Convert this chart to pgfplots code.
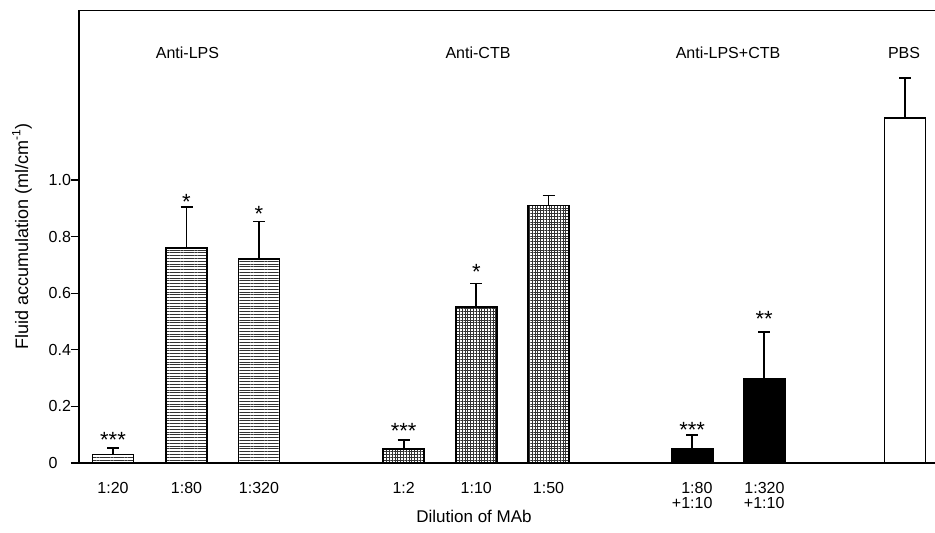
\documentclass[border=0pt]{standalone}
\usepackage{fontspec}
\setmainfont{Liberation Sans}
\usepackage{pgfplots}
\pgfplotsset{compat=1.18}
\usetikzlibrary{patterns.meta}

\pgfplotsset{
    uperr/.style={
        error bars/.cd,
        y dir=plus, y explicit,
        error bar style={line width=0.85pt, black},
        error mark options={rotate=90, mark size=3pt, line width=0.85pt, black},
    },
}

\begin{document}
\begin{tikzpicture}
\begin{axis}[
    scale only axis,
    width=428pt, height=226.4pt,
    xmin=79, xmax=935, ymin=0, ymax=1.6,
    clip=false,
    axis x line*=bottom, axis y line*=left,
    axis line style={line width=0.6pt},
    ybar, bar width=41, bar shift=0pt,
    xtick={113,186.5,259,403.7,476.3,548.5,692.2,764.2},
    xticklabels={1:20,1:80,1:320,1:2,1:10,1:50,{1:80\\+1:10},{1:320\\+1:10}},
    xtick style={draw=none},
    xticklabel style={font=\fontsize{8}{7.7}\selectfont, align=right, yshift=-2pt},
    ytick={0,0.2,0.4,0.6,0.8,1.0},
    yticklabels={0,0.2,0.4,0.6,0.8,1.0},
    tick align=outside,
    major tick length=4pt,
    ytick style={line width=0.6pt, black},
    yticklabel style={font=\fontsize{8}{9}\selectfont, anchor=west, inner sep=0pt, xshift=-11.35pt},
    xlabel={Dilution of MAb},
    xlabel style={at={(axis cs:474,0)}, anchor=center, yshift=-26.6pt, font=\fontsize{8.5}{10}\selectfont},
    ylabel={Fluid accumulation (ml/cm\textsuperscript{-1})},
    every axis y label/.style={at={(axis description cs:-0.0666,0.5)}, rotate=90, anchor=center, font=\fontsize{9}{10}\selectfont},
]
% Anti-LPS
\addplot[draw=black, line width=0.8pt,
    pattern={Lines[angle=0,distance=1.4pt,line width=0.35pt]}, pattern color=black!80, uperr]
    coordinates {(113,0.03) +- (0,0.023) (186.5,0.76) +- (0,0.145) (259,0.72) +- (0,0.133)};
% Anti-CTB
\addplot[draw=black, line width=0.8pt,
    pattern={Hatch[angle=0,distance=1.4pt,line width=0.3pt]}, pattern color=black!80, uperr]
    coordinates {(403.7,0.05) +- (0,0.032) (476.3,0.551) +- (0,0.083) (548.5,0.91) +- (0,0.035)};
% Anti-LPS+CTB
\addplot[draw=black, line width=0.8pt, fill=black, uperr]
    coordinates {(692.2,0.05) +- (0,0.05) (764.2,0.298) +- (0,0.164)};
% PBS
\addplot[draw=black, line width=0.8pt, fill=white, uperr]
    coordinates {(905,1.218) +- (0,0.143)};

\draw[line width=0.6pt] (rel axis cs:0,1) -- (rel axis cs:1,1);

\begin{scope}[every node/.style={font=\fontsize{8}{10}\selectfont}]
\node at (axis cs:187.5,1.45) {Anti-LPS};
\node at (axis cs:478,1.45) {Anti-CTB};
\node at (axis cs:728,1.45) {Anti-LPS+CTB};
\node at (axis cs:904,1.45) {PBS};
\end{scope}

\begin{scope}[every node/.style={font=\fontsize{11}{11}\selectfont, anchor=center, inner sep=0pt}]
\node[yshift=4pt] at (axis cs:113,0.053) {***};
\node[yshift=2.4pt] at (axis cs:186.5,0.905) {*};
\node[yshift=3.9pt] at (axis cs:259,0.853) {*};
\node[yshift=4.4pt] at (axis cs:403.7,0.082) {***};
\node[yshift=6pt] at (axis cs:476.3,0.634) {*};
\node[yshift=2.2pt] at (axis cs:692.2,0.10) {***};
\node[yshift=6.7pt] at (axis cs:764.2,0.462) {**};
\end{scope}
\end{axis}
\pgfresetboundingbox
\path[use as bounding box] (-39.5pt,-34.85pt) rectangle (428pt,231.5pt);
\end{tikzpicture}
\end{document}
